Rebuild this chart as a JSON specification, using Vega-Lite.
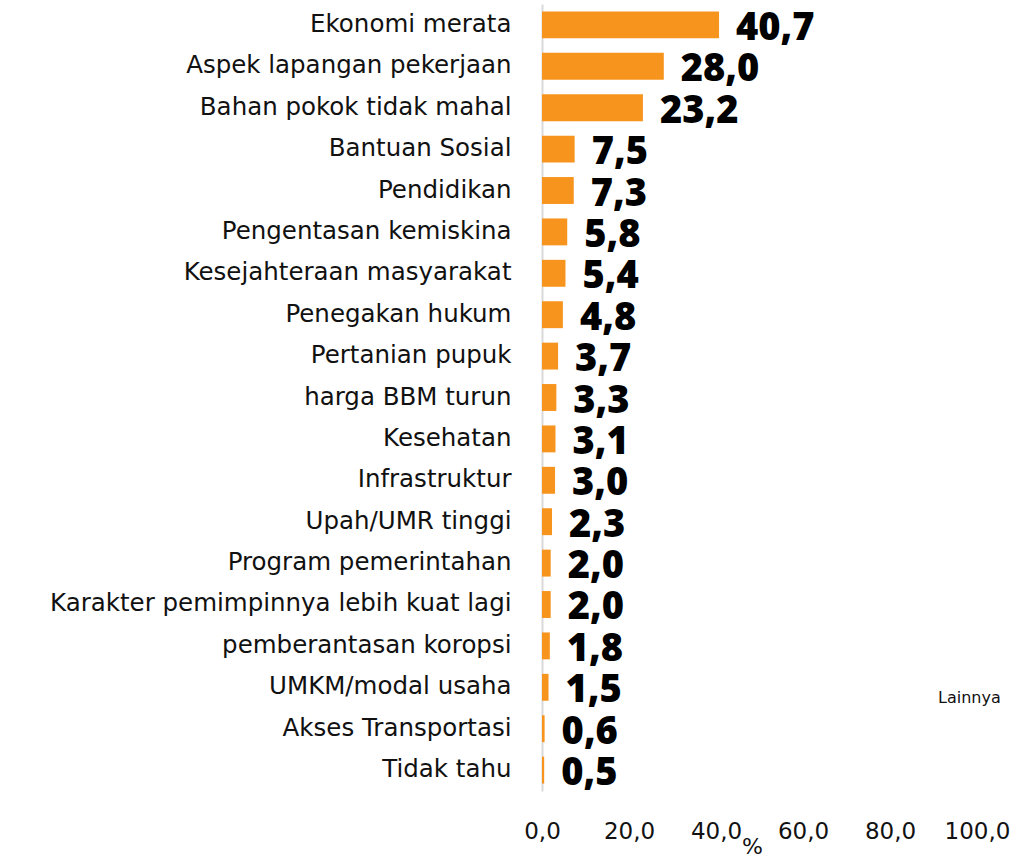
{
  "$schema": "https://vega.github.io/schema/vega-lite/v6.json",
  "width": 435,
  "height": 787,
  "autosize": {"type": "none"},
  "padding": {"left": 542, "top": 4, "right": 35, "bottom": 69},
  "background": "white",
  "config": {
    "locale": {"number": {"decimal": ",", "thousands": ".", "grouping": [3], "currency": ["", ""]}},
    "view": {"stroke": null},
    "font": "DejaVu Sans"
  },
  "data": {"values": [
    {"aspek": "Ekonomi merata", "persen": 40.7},
    {"aspek": "Aspek lapangan pekerjaan", "persen": 28.0},
    {"aspek": "Bahan pokok tidak mahal", "persen": 23.2},
    {"aspek": "Bantuan Sosial", "persen": 7.5},
    {"aspek": "Pendidikan", "persen": 7.3},
    {"aspek": "Pengentasan kemiskina", "persen": 5.8},
    {"aspek": "Kesejahteraan masyarakat", "persen": 5.4},
    {"aspek": "Penegakan hukum", "persen": 4.8},
    {"aspek": "Pertanian pupuk", "persen": 3.7},
    {"aspek": "harga BBM turun", "persen": 3.3},
    {"aspek": "Kesehatan", "persen": 3.1},
    {"aspek": "Infrastruktur", "persen": 3.0},
    {"aspek": "Upah/UMR tinggi", "persen": 2.3},
    {"aspek": "Program pemerintahan", "persen": 2.0},
    {"aspek": "Karakter pemimpinnya lebih kuat lagi", "persen": 2.0},
    {"aspek": "pemberantasan koropsi", "persen": 1.8},
    {"aspek": "UMKM/modal usaha", "persen": 1.5},
    {"aspek": "Akses Transportasi ", "persen": 0.6},
    {"aspek": "Tidak tahu", "persen": 0.5}
  ]},
  "encoding": {
    "y": {
      "field": "aspek", "type": "nominal", "sort": null,
      "scale": {"paddingInner": 0.35, "paddingOuter": 0.18},
      "axis": {
        "title": null, "ticks": false, "domain": true, "domainColor": "#d9d9d9", "domainWidth": 2,
        "labelFontSize": 24.5, "labelColor": "#111111", "labelPadding": 31, "labelLimit": 700,
        "labelFont": "DejaVu Sans"
      }
    },
    "x": {
      "field": "persen", "type": "quantitative",
      "scale": {"domain": [0, 100]},
      "axis": {
        "title": "%", "values": [0, 20, 40, 60, 80, 100], "format": ".1f",
        "domain": false, "ticks": false, "grid": false,
        "labelFontSize": 23, "labelColor": "#111111", "labelPadding": 29,
        "labelFont": "DejaVu Sans", "labelFlush": false,
        "titleFontSize": 22, "titleFontWeight": "normal", "titleColor": "#111111",
        "titleFont": "DejaVu Sans",
        "titlePadding": -7, "titleX": 210
      }
    }
  },
  "layer": [
    {
      "mark": {"type": "bar", "color": "#F7941E"},
      "encoding": {
        "color": {
          "datum": "Lainnya",
          "scale": {"range": ["#F7941E"]},
          "legend": {
            "title": null, "orient": "none", "legendX": 376, "legendY": 686,
            "symbolSize": 0, "symbolStrokeWidth": 0, "labelFontSize": 16, "labelColor": "#111111",
            "labelFont": "DejaVu Sans"
          }
        }
      }
    },
    {
      "mark": {"type": "text", "align": "left", "baseline": "middle", "dx": 17, "dy": 4,
               "fontSize": 38, "fontWeight": 800, "color": "#000000", "font": "Open Sans"},
      "encoding": {
        "text": {"field": "persen", "type": "quantitative", "format": ".1f"}
      }
    }
  ]
}
